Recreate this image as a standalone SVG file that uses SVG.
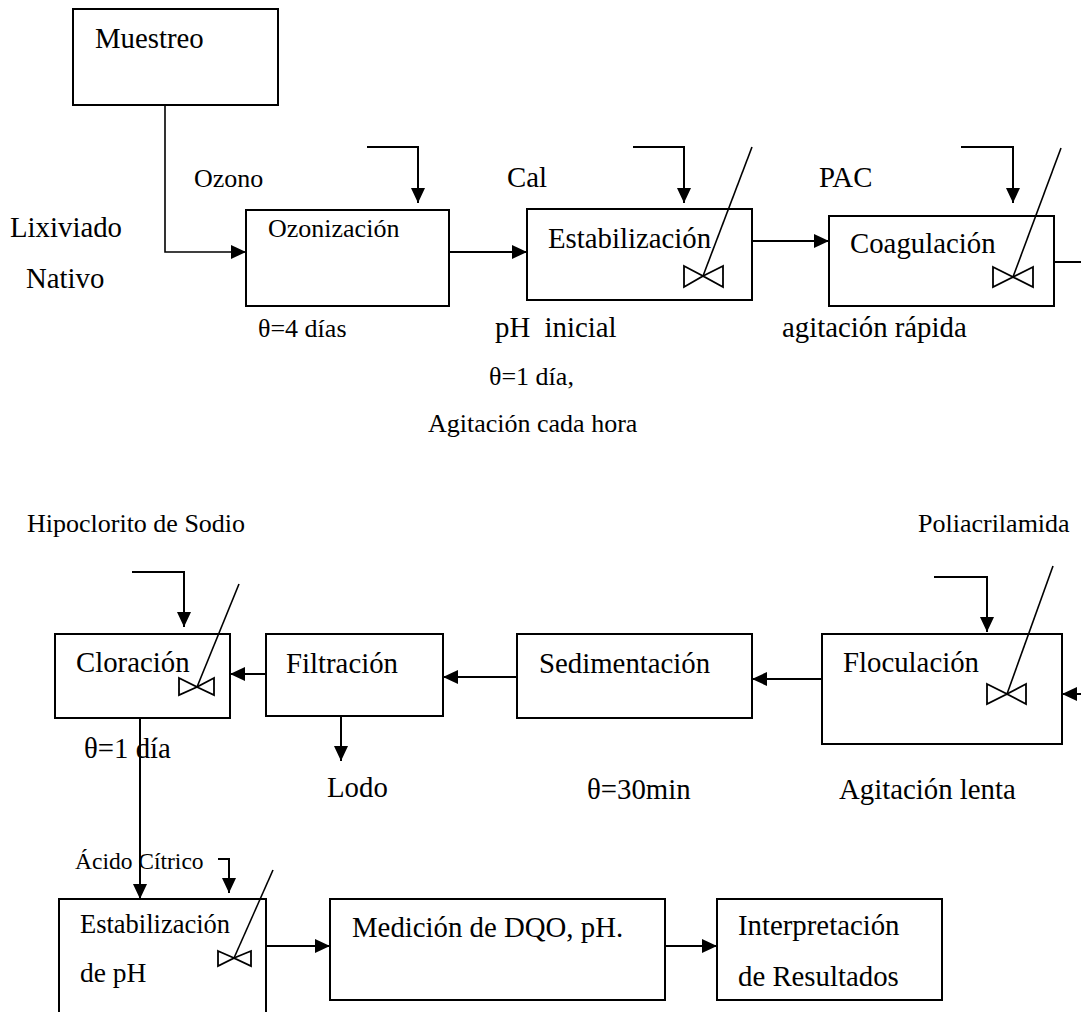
<svg xmlns="http://www.w3.org/2000/svg" width="1081" height="1012" viewBox="0 0 1081 1012">
<style>
text{font-family:"Liberation Serif","Times New Roman",serif;fill:#000;font-size:28.8px;white-space:pre}
.s{font-size:26px}
.xs{font-size:23.5px}
.box{fill:#fff;stroke:#000;stroke-width:2}
.c{fill:none;stroke:#000;stroke-width:2}
.thin{fill:none;stroke:#000;stroke-width:1.6}
.bt{fill:#fff;stroke:#000;stroke-width:1.8}
</style>
<defs>
<marker id="ah" markerUnits="userSpaceOnUse" markerWidth="15" markerHeight="14" refX="15" refY="7" orient="auto">
<path d="M0,0 L15,7 L0,14 Z" fill="#000"/>
</marker>
</defs>
<rect width="1081" height="1012" fill="#fff"/>
<g id="connectors">
<polyline class="thin" points="165,105 165,252 246,252" marker-end="url(#ah)"/>
<polyline class="c" points="367,147 418,147 418,203" marker-end="url(#ah)"/>
<line class="c" x1="449" y1="252" x2="527" y2="252" marker-end="url(#ah)"/>
<polyline class="c" points="633,147 684,147 684,203" marker-end="url(#ah)"/>
<line class="c" x1="752" y1="241" x2="829" y2="241" marker-end="url(#ah)"/>
<polyline class="c" points="961,147 1013,147 1013,203" marker-end="url(#ah)"/>
<line class="c" x1="1054" y1="262" x2="1081" y2="262"/>
<line class="c" x1="1081" y1="694" x2="1062" y2="694" marker-end="url(#ah)"/>
<line class="c" x1="822" y1="679" x2="752" y2="679" marker-end="url(#ah)"/>
<line class="c" x1="517" y1="677" x2="443" y2="677" marker-end="url(#ah)"/>
<line class="c" x1="266" y1="674" x2="230" y2="674" marker-end="url(#ah)"/>
<polyline class="c" points="132,572 184,572 184,627" marker-end="url(#ah)"/>
<polyline class="c" points="934,577 987,577 987,632" marker-end="url(#ah)"/>
<line class="c" x1="341" y1="716" x2="341" y2="761" marker-end="url(#ah)"/>
<line class="c" x1="140" y1="718" x2="140" y2="899" marker-end="url(#ah)"/>
<polyline class="c" points="218,859 229,859 229,893" marker-end="url(#ah)"/>
<line class="c" x1="266" y1="946" x2="330" y2="946" marker-end="url(#ah)"/>
<line class="c" x1="665" y1="946" x2="717" y2="946" marker-end="url(#ah)"/>
</g>
<g id="muestreo"><rect class="box" x="73" y="9" width="205" height="96"/><text x="95" y="48">Muestreo</text></g>
<g id="ozonizacion"><rect class="box" x="246" y="210" width="203" height="96"/><text class="s" x="268" y="237">Ozonización</text></g>
<g id="estabilizacion"><rect class="box" x="527" y="209" width="225" height="91"/><text x="548" y="248">Estabilización</text>
<path class="bt" d="M684,266 L703,276 L684,287 Z M723,266 L703,276 L723,287 Z"/>
<line class="thin" x1="752" y1="147" x2="703" y2="276"/></g>
<g id="coagulacion"><rect class="box" x="829" y="216" width="225" height="90"/><text x="850" y="253">Coagulación</text>
<path class="bt" d="M993,267 L1013,277 L993,287 Z M1033,267 L1013,277 L1033,287 Z"/>
<line class="thin" x1="1061" y1="148" x2="1013" y2="277"/></g>
<g id="cloracion"><rect class="box" x="55" y="634" width="175" height="84"/><text x="76" y="672">Cloración</text>
<path class="bt" d="M179,678 L197,687 L179,695 Z M214,678 L197,687 L214,695 Z"/>
<line class="thin" x1="239" y1="584" x2="197" y2="687"/></g>
<g id="filtracion"><rect class="box" x="266" y="634" width="177" height="82"/><text x="286" y="673">Filtración</text></g>
<g id="sedimentacion"><rect class="box" x="517" y="634" width="235" height="84"/><text x="539" y="673">Sedimentación</text></g>
<g id="floculacion"><rect class="box" x="822" y="634" width="240" height="110"/><text x="843" y="672">Floculación</text>
<path class="bt" d="M987,684 L1007,694 L987,704 Z M1026,684 L1007,694 L1026,704 Z"/>
<line class="thin" x1="1053" y1="566" x2="1007" y2="694"/></g>
<g id="estabilizacion-ph"><rect class="box" x="59" y="899" width="207" height="140"/>
<text x="80" y="933" style="font-size:26.5px">Estabilización</text><text x="80" y="982" style="font-size:27.5px">de pH</text>
<path class="bt" d="M218,951 L234,958 L218,966 Z M251,951 L234,958 L251,966 Z"/>
<line class="thin" x1="273" y1="870" x2="234" y2="958"/></g>
<g id="medicion"><rect class="box" x="330" y="899" width="335" height="101"/><text x="352" y="937">Medición de DQO, pH.</text></g>
<g id="interpretacion"><rect class="box" x="717" y="899" width="225" height="101"/><text x="738" y="935">Interpretación</text><text x="738" y="986">de Resultados</text></g>
<g id="labels">
<text class="s" x="194" y="187">Ozono</text>
<text x="10" y="237">Lixiviado</text>
<text x="26" y="288">Nativo</text>
<text class="s" x="258" y="337">θ=4 días</text>
<text x="507" y="187">Cal</text>
<text x="495" y="337">pH  inicial</text>
<text class="s" x="489" y="385">θ=1 día,</text>
<text class="s" x="428" y="432">Agitación cada hora</text>
<text x="819" y="187">PAC</text>
<text x="782" y="337">agitación rápida</text>
<text class="s" x="27" y="532">Hipoclorito de Sodio</text>
<text class="s" x="918" y="532">Poliacrilamida</text>
<text x="84" y="758">θ=1 día</text>
<text x="327" y="797">Lodo</text>
<text x="587" y="799">θ=30min</text>
<text x="839" y="799">Agitación lenta</text>
<text class="xs" x="75" y="869">Ácido Cítrico</text>
</g>
</svg>
